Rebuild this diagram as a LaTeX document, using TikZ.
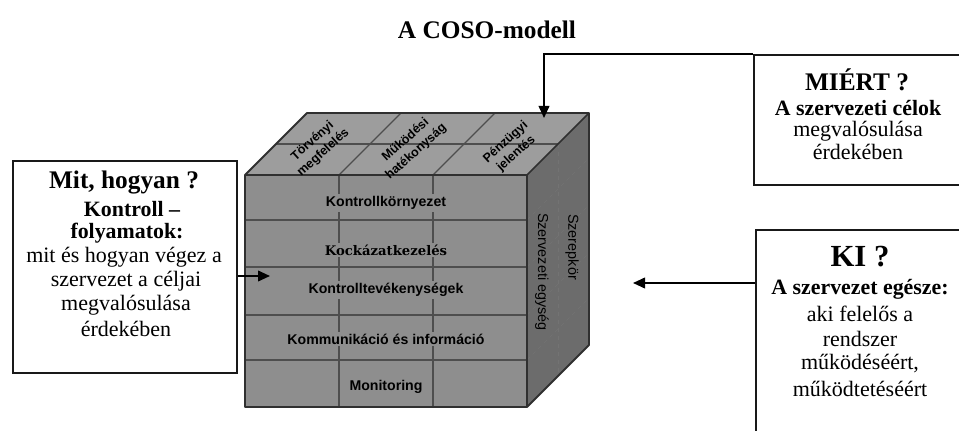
\documentclass[tikz,border=0pt]{standalone}
\usepackage{fontspec}
\setmainfont{Liberation Serif}
\newfontfamily\sansf{Liberation Sans}
\newfontfamily\widef{DejaVu Serif}
\usetikzlibrary{arrows.meta}
\definecolor{frontc}{HTML}{8E8E8E}
\definecolor{topc}{HTML}{9D9D9D}
\definecolor{sidec}{HTML}{6C6C6C}
\definecolor{gridc}{HTML}{4E4E4E}
\definecolor{edgec}{HTML}{303030}
\tikzset{
  infobox/.style={draw=black!90, line width=1.4pt, fill=white, inner sep=0pt},
  facelbl/.style={font=\sansf\bfseries\fontsize{10.6}{12}\selectfont, fill=frontc, inner sep=1.5pt},
  toplbl/.style={font=\sansf\bfseries\fontsize{9.4}{11.8}\selectfont, align=center, rotate=42, inner sep=0pt},
  sidelbl/.style={font=\sansf\fontsize{10.8}{12}\selectfont, rotate=-90, inner sep=0pt},
  conn/.style={line width=1.3pt, -{Triangle[length=9pt,width=8pt]}},
  bigq/.style={font=\bfseries\fontsize{19}{22}\selectfont, inner sep=0pt},
  boldl/.style={font=\bfseries\fontsize{16.4}{19}\selectfont, inner sep=0pt},
  regl/.style={font=\fontsize{16.5}{19}\selectfont, inner sep=0pt},
  gridline/.style={draw=gridc, line width=0.9pt},
  faintline/.style={draw=black!55, line width=0.5pt, dashed}
}
\begin{document}
\begin{tikzpicture}[x=0.75pt,y=-0.75pt]
\useasboundingbox (0,0) rectangle (959,431);
\clip (0,0) rectangle (959,431);

% title
\node[font=\bfseries\fontsize{19}{22}\selectfont, inner sep=0pt] (title) at (487,30) {A COSO-modell};

% ---- cube ----
% top face
\fill[topc] (245,175) -- (307,113) -- (589,113) -- (527,175) -- cycle;
% right face
\fill[sidec] (527,175) -- (589,113) -- (589,345) -- (527,407) -- cycle;
% front face
\fill[frontc] (245,175) rectangle (527,407);

% top grid
\draw[gridline] (276,144) -- (558,144);
\draw[gridline] (339,175) -- (401,113);
\draw[gridline] (433,175) -- (495,113);
% front grid
\foreach \yy in {220,267,315,360} \draw[gridline] (245,\yy) -- (527,\yy);
\foreach \xx in {339,433} \draw[gridline] (\xx,175) -- (\xx,407);
% faint lines on right face
\foreach \yy in {220,267,315,360} \draw[faintline] (527,\yy) -- (589,\yy-62);
\draw[faintline] (558,144) -- (558,376);

% outer edges
\draw[edgec, line width=1.4pt, line join=round]
  (245,175) -- (307,113) -- (589,113) -- (589,345) -- (527,407) -- (245,407) -- cycle;
\draw[edgec, line width=1.2pt] (245,175) -- (527,175) -- (589,113);
\draw[edgec, line width=1.2pt] (527,175) -- (527,407);

% top labels
\node[toplbl] (torv) at (318,147) {Törvényi\\megfelelés};
\node[toplbl] (mukod) at (411,146) {Működési\\hatékonyság};
\node[toplbl] (penz) at (511,148) {Pénzügyi\\jelentés};

% front labels
\node[facelbl] (kkorny) at (386,203) {Kontrollkörnyezet};
\node[facelbl, font=\widef\bfseries\fontsize{9.9}{12}\selectfont] (kock) at (386,250) {Kockázatkezelés};
\node[facelbl] (ktev) at (386,290) {Kontrolltevékenységek};
\node[facelbl] (komm) at (386,339) {Kommunikáció és információ};
\node[facelbl] (monit) at (386,387) {Monitoring};

% right face labels
\node[sidelbl] (szerv) at (542,272) {Szervezeti egység};
\node[sidelbl] (szerep) at (572,247) {Szerepkör};

% ---- left box ----
\node[infobox, anchor=north west, minimum width=168pt, minimum height=159pt] (mit) at (12,160) {};
\node[bigq] (mitq) at (124,183) {Mit, hogyan ?};
\node[boldl] (mit1) at (132,209) {Kontroll –};
\node[boldl] (mit2) at (127,233) {folyamatok:};
\node[regl] (mit3) at (124,257) {mit és hogyan végez a};
\node[regl] (mit4) at (126,281) {szervezet a céljai};
\node[regl] (mit5) at (126,305) {megvalósulása};
\node[regl] (mit6) at (126,329) {érdekében};

% ---- MIÉRT box ----
\node[infobox, anchor=north west, minimum width=162pt, minimum height=97.5pt] (miert) at (753,54) {};
\node[bigq] (miertq) at (857,80) {MIÉRT ?};
\node[boldl] (mi1) at (858,108) {A szervezeti célok};
\node[regl] (mi2) at (858,131) {megvalósulása};
\node[regl] (mi3) at (858,152) {érdekében};

% ---- KI box ----
\node[infobox, anchor=north west, minimum width=160pt, minimum height=162pt] (ki) at (755,229) {};
\node[font=\bfseries\fontsize{23}{26}\selectfont, inner sep=0pt] (kiq) at (860,257) {KI ?};
\node[boldl] (ki1) at (860,289) {A szervezet egésze:};
\node[regl] (ki2) at (860,314) {aki felelős a};
\node[regl] (ki3) at (860,339) {rendszer};
\node[regl] (ki4) at (860,364) {működéséért,};
\node[regl] (ki5) at (860,389) {működtetéséért};

% ---- connectors ----
\coordinate (leftin) at (270,276);
\coordinate (topin) at (544,118);
\coordinate (kiin) at (633,283);
\draw[conn] (mit.east |- leftin) -- (leftin);
\draw[conn] (miert.north west) -| (topin);
\draw[conn] (ki.west |- kiin) -- (kiin);
\end{tikzpicture}
\end{document}
